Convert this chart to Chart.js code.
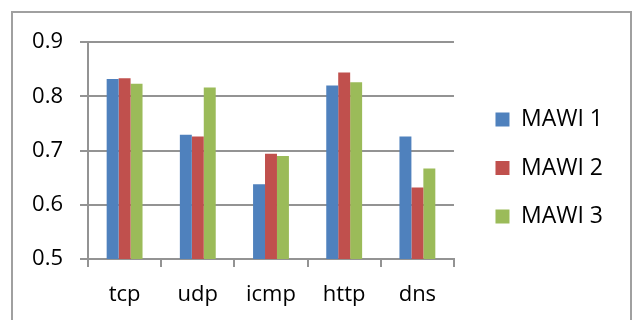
<!DOCTYPE html>
<html>
<head>
<meta charset="utf-8">
<script src="https://cdn.jsdelivr.net/npm/chart.js@4/dist/chart.umd.min.js"></script>
<style>
  html, body { margin: 0; padding: 0; background: #ffffff; }
  #wrap { width: 632px; height: 320px; position: relative; }
</style>
</head>
<body>
<div id="wrap"><canvas id="chart" width="632" height="320"></canvas></div>
<script>
// Protocol categories and the three MAWI trace series
const categories = ['tcp', 'udp', 'icmp', 'http', 'dns'];
const mawi1 = [0.832, 0.729, 0.638, 0.820, 0.726];
const mawi2 = [0.833, 0.726, 0.694, 0.844, 0.632];
const mawi3 = [0.823, 0.816, 0.690, 0.826, 0.667];
const seriesNames = ['MAWI 1', 'MAWI 2', 'MAWI 3'];
const yTicks = [0.5, 0.6, 0.7, 0.8, 0.9];

const colors = ['#4F81BD', '#C0504D', '#9BBB59'];
const gridGray = '#939393';
const fontFamily = '"Open Sans", "Liberation Sans", sans-serif';

// Grey frame around the whole chart
const framePlugin = {
  id: 'frame',
  beforeDraw(chart) {
    const ctx = chart.ctx;
    ctx.save();
    ctx.strokeStyle = '#a0a0a0';
    ctx.lineWidth = 2;
    ctx.strokeRect(12, 12, 619, 340);
    ctx.restore();
  }
};

// Invisible scale used only to reserve empty space in the layout
const spacer = (position, size) => ({
  type: 'linear',
  position,
  display: true,
  grid: { display: false },
  border: { display: false },
  ticks: { display: false },
  afterFit(scale) {
    if (scale.isHorizontal()) scale.height = size; else scale.width = size;
  }
});

new Chart(document.getElementById('chart'), {
  type: 'bar',
  data: {
    labels: categories,
    datasets: [mawi1, mawi2, mawi3].map((vals, i) => ({
      label: seriesNames[i],
      data: vals,
      backgroundColor: colors[i],
      borderWidth: 0,
      categoryPercentage: 0.49,
      barPercentage: 1.0
    }))
  },
  options: {
    responsive: false,
    animation: false,
    layout: { padding: { left: 30, top: 25, right: 19, bottom: 9 } },
    plugins: {
      tooltip: { enabled: false },
      legend: {
        position: 'right',
        align: 'center',
        maxWidth: 220,
        labels: {
          boxWidth: 14,
          boxHeight: 14,
          padding: 25.5,
          color: '#000000',
          font: { family: fontFamily, size: 23 }
        }
      }
    },
    scales: {
      x: {
        grid: {
          display: true,
          drawOnChartArea: false,
          drawTicks: true,
          tickLength: 8,
          color: gridGray,
          lineWidth: 2
        },
        border: { display: true, color: gridGray, width: 2 },
        ticks: {
          color: '#000000',
          padding: 15,
          font: { family: fontFamily, size: 22 }
        },
        afterFit(scale) { scale.height = 52; }
      },
      y: {
        min: 0.5,
        max: 0.9,
        afterBuildTicks(scale) { scale.ticks = yTicks.map(v => ({ value: v })); },
        grid: {
          color: gridGray,
          lineWidth: 2,
          tickLength: 8,
          drawTicks: true
        },
        border: { display: true, color: gridGray, width: 2 },
        ticks: {
          color: '#000000',
          padding: 17,
          font: { family: fontFamily, size: 22 },
          callback: v => Number(v).toFixed(1)
        },
        afterFit(scale) { scale.width = 58; }
      },
      gapRight: spacer('right', 16),
      gapTop: spacer('top', 17)
    }
  },
  plugins: [framePlugin]
});
</script>
</body>
</html>
